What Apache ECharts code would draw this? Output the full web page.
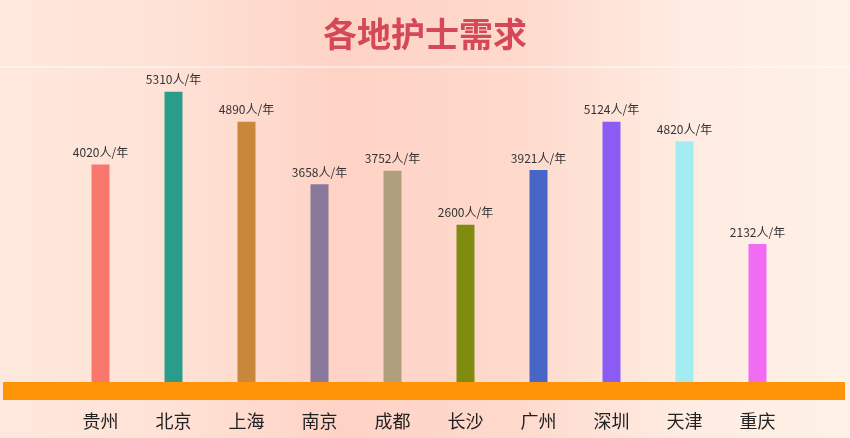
<!DOCTYPE html>
<html>
<head>
<meta charset="utf-8">
<script src="https://cdn.jsdelivr.net/npm/echarts@6/dist/echarts.min.js"></script>
<style>
html,body{margin:0;padding:0;}
#main{width:850px;height:438px;}
</style>
</head>
<body>
<div id="main"></div>
<script>
var categories = ['贵州','北京','上海','南京','成都','长沙','广州','深圳','天津','重庆'];
var values = [4020, 5310, 4780, 3670, 3910, 2950, 3921, 4780, 4430, 2610];
var labelTexts = ['4020人/年','5310人/年','4890人/年','3658人/年','3752人/年','2600人/年','3921人/年','5124人/年','4820人/年','2132人/年'];
var barColors = ['#f8786e','#2a9d8a','#c8873a','#8a789a','#b09f7c','#7f8c0f','#4866c8','#8b5cf4','#a3ecf1','#f06cf2'];

var chart = echarts.init(document.getElementById('main'));
chart.setOption({
  backgroundColor: new echarts.graphic.LinearGradient(0,0,1,0,[
    {offset:0, color:'#fee8dd'},
    {offset:0.2, color:'#fee2d6'},
    {offset:0.4, color:'#fed3c6'},
    {offset:0.6, color:'#fed9cc'},
    {offset:0.8, color:'#feebe1'},
    {offset:1, color:'#fff1e7'}
  ]),
  title: {
    text: '各地护士需求',
    left: 'center',
    top: 12,
    textStyle: {
      fontFamily: 'Noto Sans CJK SC',
      fontSize: 34,
      fontWeight: 'bold',
      color: '#d44858'
    }
  },
  graphic: [{
    type: 'rect',
    shape: {x: 0, y: 66, width: 850, height: 2},
    style: {fill: 'rgba(255,255,255,0.45)'},
    silent: true
  }],
  grid: [
    {left: 64, right: 56, top: 53, bottom: 47},
    {left: 3, right: 5, top: 53, bottom: 47}
  ],
  xAxis: [{
    type: 'category',
    gridIndex: 0,
    data: categories,
    axisLine: {show: false},
    axisTick: {show: false},
    axisLabel: {
      margin: 21,
      fontSize: 18,
      color: '#222',
      fontFamily: 'Noto Sans CJK SC'
    }
  },{
    type: 'category',
    gridIndex: 1,
    data: [''],
    z: 10,
    axisLine: {show: true, lineStyle: {color: '#ff9409', width: 18, cap: 'butt'}},
    axisTick: {show: false},
    axisLabel: {show: false}
  }],
  yAxis: [{
    type: 'value',
    gridIndex: 0,
    min: 0,
    max: 6000,
    show: false
  },{
    type: 'value',
    gridIndex: 1,
    min: 0,
    max: 6000,
    show: false
  }],
  series: [{
    type: 'bar',
    xAxisIndex: 0,
    yAxisIndex: 0,
    barWidth: 18,
    data: values.map(function(v, i){
      return {value: v, itemStyle: {color: barColors[i]}};
    }),
    label: {
      show: true,
      position: 'top',
      distance: 6,
      fontSize: 12,
      color: '#333',
      fontFamily: 'Noto Sans CJK SC',
      formatter: function(p){ return labelTexts[p.dataIndex]; }
    }
  }]
});
</script>
</body>
</html>
